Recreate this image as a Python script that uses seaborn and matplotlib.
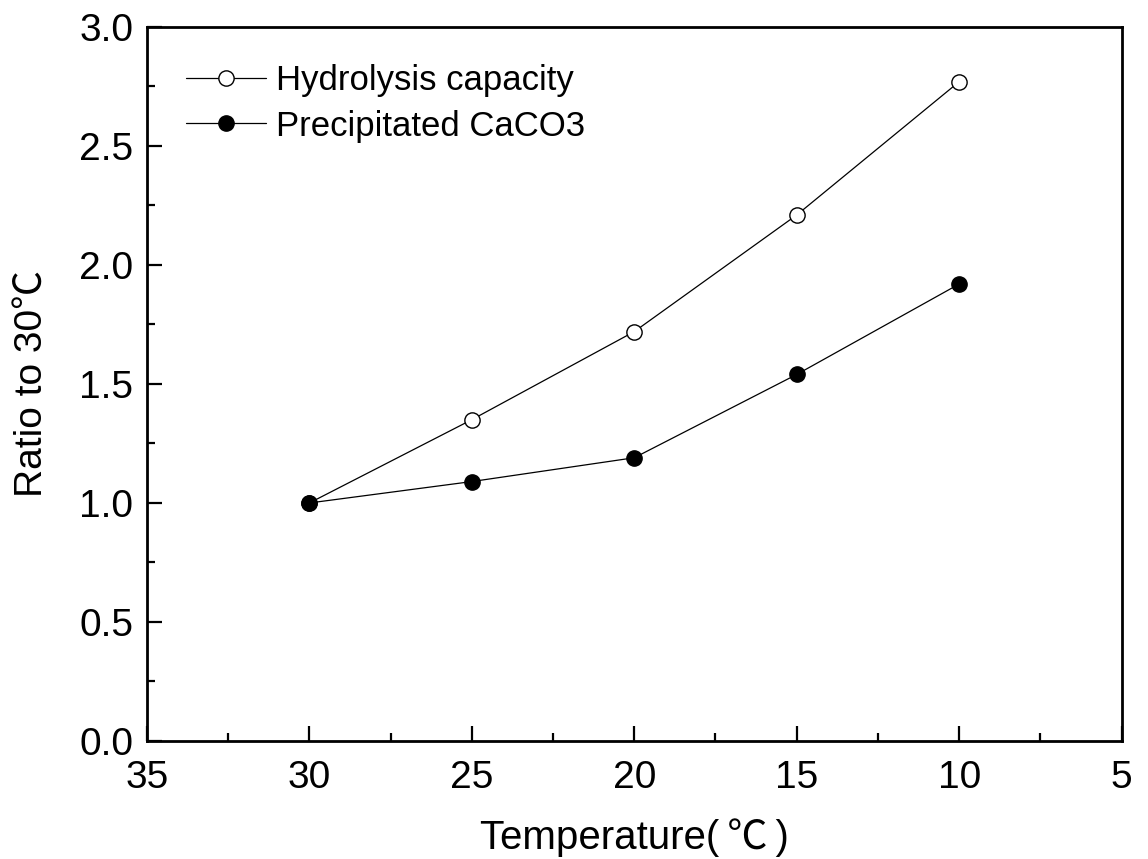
import matplotlib
matplotlib.use("Agg")
import matplotlib.pyplot as plt
from matplotlib.ticker import MultipleLocator, FormatStrFormatter
import seaborn as sns
import pandas as pd

temperature = [30, 25, 20, 15, 10]
hydrolysis_capacity = [1.00, 1.35, 1.72, 2.21, 2.77]
precipitated_caco3 = [1.00, 1.09, 1.19, 1.54, 1.92]

sns.set_style("ticks")
plt.rcParams["font.family"] = ["Liberation Sans", "Noto Sans CJK SC", "DejaVu Sans"]
plt.rcParams["text.color"] = "black"
plt.rcParams["axes.labelcolor"] = "black"
plt.rcParams["xtick.color"] = "black"
plt.rcParams["ytick.color"] = "black"

fig = plt.figure(figsize=(11.48, 8.59), dpi=100)
ax = fig.add_axes([0.128, 0.1374, 0.849, 0.8312])

df_h = pd.DataFrame({"T": temperature, "ratio": hydrolysis_capacity})
df_p = pd.DataFrame({"T": temperature, "ratio": precipitated_caco3})

sns.lineplot(data=df_h, x="T", y="ratio", ax=ax, color="black", lw=0.9,
             marker="o", markersize=11, markerfacecolor="white",
             markeredgecolor="black", markeredgewidth=1.0,
             label="Hydrolysis capacity", sort=False)
sns.lineplot(data=df_p, x="T", y="ratio", ax=ax, color="black", lw=0.9,
             marker="o", markersize=11, markerfacecolor="black",
             markeredgecolor="black", markeredgewidth=1.0,
             label="Precipitated CaCO3", sort=False)

ax.set_xlim(35, 5)
ax.set_ylim(0, 3.0)
ax.xaxis.set_major_locator(MultipleLocator(5))
ax.xaxis.set_minor_locator(MultipleLocator(2.5))
ax.yaxis.set_major_locator(MultipleLocator(0.5))
ax.yaxis.set_minor_locator(MultipleLocator(0.25))
ax.yaxis.set_major_formatter(FormatStrFormatter("%.1f"))

ax.tick_params(which="major", direction="in", length=11, width=1.6,
               labelsize=28, top=False, right=False)
ax.tick_params(axis="x", which="major", pad=13.5)
ax.tick_params(axis="y", which="major", pad=10)
ax.tick_params(which="minor", direction="in", length=6, width=1.6,
               top=False, right=False)
for s in ax.spines.values():
    s.set_linewidth(2.0)
    s.set_color("black")

ax.set_xlabel("Temperature(\u2009℃\u2009)", fontsize=29, labelpad=16)
ax.set_ylabel("Ratio to 30℃", fontsize=28, labelpad=21)

ax.legend(loc="upper left", bbox_to_anchor=(0.015, 0.982), frameon=False,
          fontsize=25, handlelength=2.3, handletextpad=0.3,
          labelspacing=0.36, borderaxespad=0.3)

fig.savefig("out.png", dpi=100)
